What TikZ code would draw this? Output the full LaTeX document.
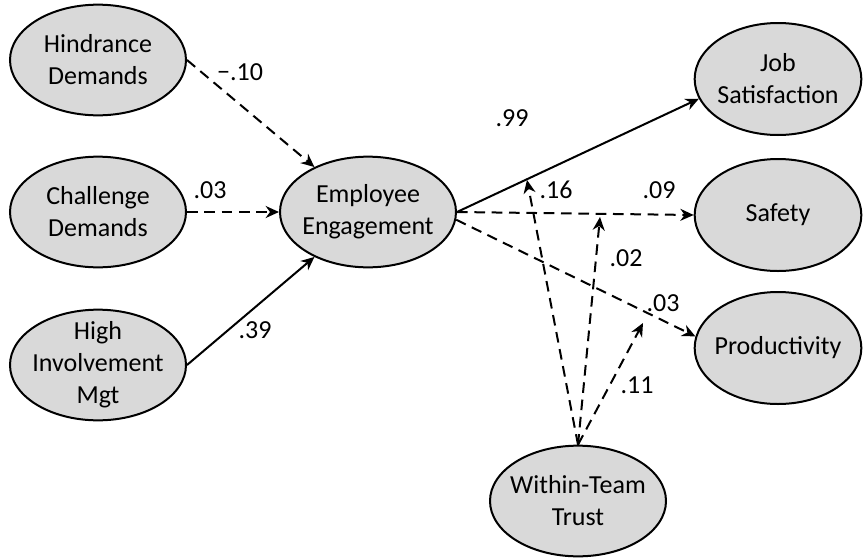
\documentclass[tikz,border=0pt]{standalone}
\usepackage{fontspec}
\setmainfont{Carlito}
\usepackage{tikz}
\usetikzlibrary{shapes,arrows.meta,positioning,calc}

\definecolor{latentgray}{HTML}{D9D9D9}

\begin{document}
\begin{tikzpicture}[
    x=0.75pt, y=-0.75pt,
    latent/.style={ellipse, draw, line width=1.5pt, fill=latentgray, align=center, inner sep=-14pt, minimum width=132pt, minimum height=83pt, font=\fontsize{19.5}{24}\selectfont},
    outcome/.style={latent, minimum width=125pt, minimum height=84pt},
    lbl/.style={inner sep=0pt, font=\fontsize{19.5}{24}\selectfont},
    arrow/.style={-{Stealth[length=10pt,width=9pt]}, line width=1.5pt},
    darrow/.style={arrow, dash pattern=on 8pt off 5pt}
]
\useasboundingbox (0,0) rectangle (863,557);

% Nodes
\node[latent] (hindrance) at (98,60) {Hindrance\\Demands};
\node[latent] (challenge) at (98,212) {Challenge\\Demands};
\node[latent] (him) at (98,365) {High\\Involvement\\Mgt};

\node[latent] (engage) at (368,212) {Employee\\Engagement};

\node[outcome] (jobsat) at (778,79) {Job\\Satisfaction};
\node[outcome] (safety) at (778,215) {Safety};
\node[outcome] (prod) at (778,348) {Productivity};

\node[latent] (trust) at (578,501) {Within-Team\\Trust};

% Moderation targets
\coordinate (m1) at (527,180);
\coordinate (m2) at (600,217);
\coordinate (m3) at (643,323);

% Edges
\draw[darrow] (hindrance.east) -- (engage.140);
\draw[darrow] (challenge.east) -- (engage.west);
\draw[arrow] (him.east) -- (engage.220);

\draw[arrow] (engage.east) -- (jobsat.194);
\draw[darrow] (engage.east) -- (safety.west);
\draw[darrow] (engage.-5) -- (prod.172);

\draw[darrow] (trust.north) -- (m1);
\draw[darrow] (trust.north) -- (m2);
\draw[darrow] (trust.north) -- (m3);

% Labels
\node[lbl] (l_hind) at (240,72) {−.10};
\node[lbl] (l_chal) at (210,190) {.03};
\node[lbl] (l_him) at (255,330) {.39};
\node[lbl] (l_job) at (512,118) {.99};
\node[lbl] (l_safe) at (659,190) {.09};
\node[lbl] (l_prod) at (663,303) {.03};
\node[lbl] (l_m1) at (556,190) {.16};
\node[lbl] (l_m2) at (626,258) {.02};
\node[lbl] (l_m3) at (637,385) {.11};

\end{tikzpicture}
\end{document}
